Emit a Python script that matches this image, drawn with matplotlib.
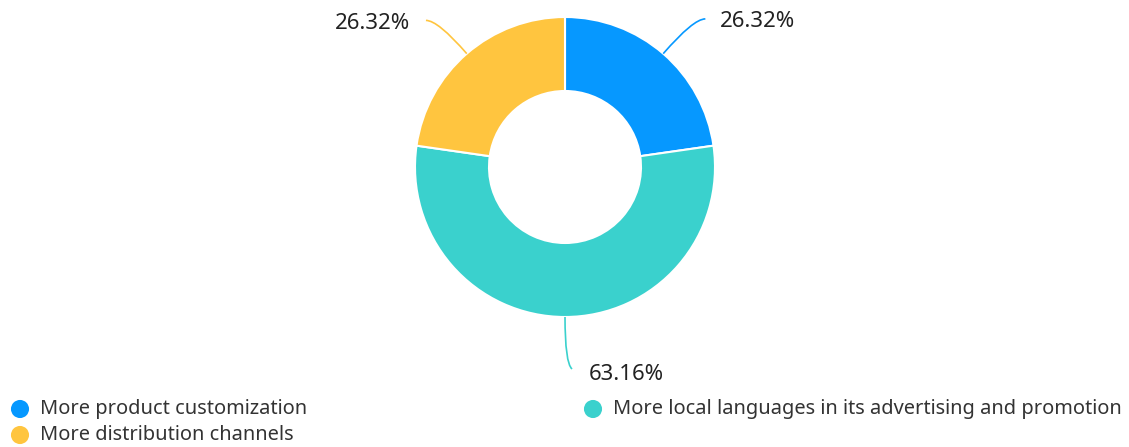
import numpy as np
import matplotlib
matplotlib.use("Agg")
import matplotlib.pyplot as plt
from matplotlib.path import Path
from matplotlib.patches import PathPatch

categories = ["More product customization",
              "More local languages in its advertising and promotion",
              "More distribution channels"]
values = [26.32, 63.16, 26.32]
labels = ["26.32%", "63.16%", "26.32%"]
colors = ["#0698ff", "#3ad1cd", "#ffc53f"]

W, H = 1129, 447
fig = plt.figure(figsize=(W / 100, H / 100), dpi=100)
ax = fig.add_axes([0, 0, 1, 1])
ax.set_xlim(0, W)
ax.set_ylim(0, H)
ax.axis("off")

cx, cy = 565, H - 167
R, r = 150, 76
font = ["Noto Sans", "DejaVu Sans"]

wedges, _ = ax.pie(values, colors=colors, startangle=90, counterclock=False,
                   center=(cx, cy), radius=R,
                   wedgeprops=dict(width=R - r, edgecolor="white", linewidth=1.5))
ax.set_xlim(0, W)
ax.set_ylim(0, H)
ax.set_aspect("equal")

total = sum(values)
ang = 90.0
ext = [46, 46, 44]
for i, (v, lab, col) in enumerate(zip(values, labels, colors)):
    span = v / total * 360
    mid = np.deg2rad(ang - span / 2)
    ang -= span
    d = np.array([np.cos(mid), np.sin(mid)])
    p0 = np.array([cx, cy]) + R * d
    p1 = np.array([cx, cy]) + (R + ext[i]) * d
    if abs(d[0]) < 0.2:
        p2 = p1 + np.array([7, -6])
        tx, ty, ha = cx + 24, p2[1] - 6, "left"
    else:
        sgn = 1 if d[0] > 0 else -1
        p2 = p1 + np.array([sgn * 12, 0])
        tx, ty, ha = cx + sgn * 155, p2[1] - 3, "left" if sgn > 0 else "right"
    path = Path([p0, p1, p2], [Path.MOVETO, Path.CURVE3, Path.CURVE3])
    ax.add_patch(PathPatch(path, fill=False, edgecolor=col, linewidth=1.2))
    ax.text(tx, ty, lab, ha=ha, va="center", fontsize=16, color="#222222",
            family=font)

# legend
leg_pos = [(20, 409), (593, 409), (20, 435)]
for (lx, ly), cat, col in zip(leg_pos, categories, colors):
    ax.scatter([lx], [H - ly], s=170, color=col, edgecolors="none")
    ax.text(lx + 20, H - ly, cat, ha="left", va="center", fontsize=14.4,
            color="#333333", family=font)

fig.savefig("out.png", dpi=100)
